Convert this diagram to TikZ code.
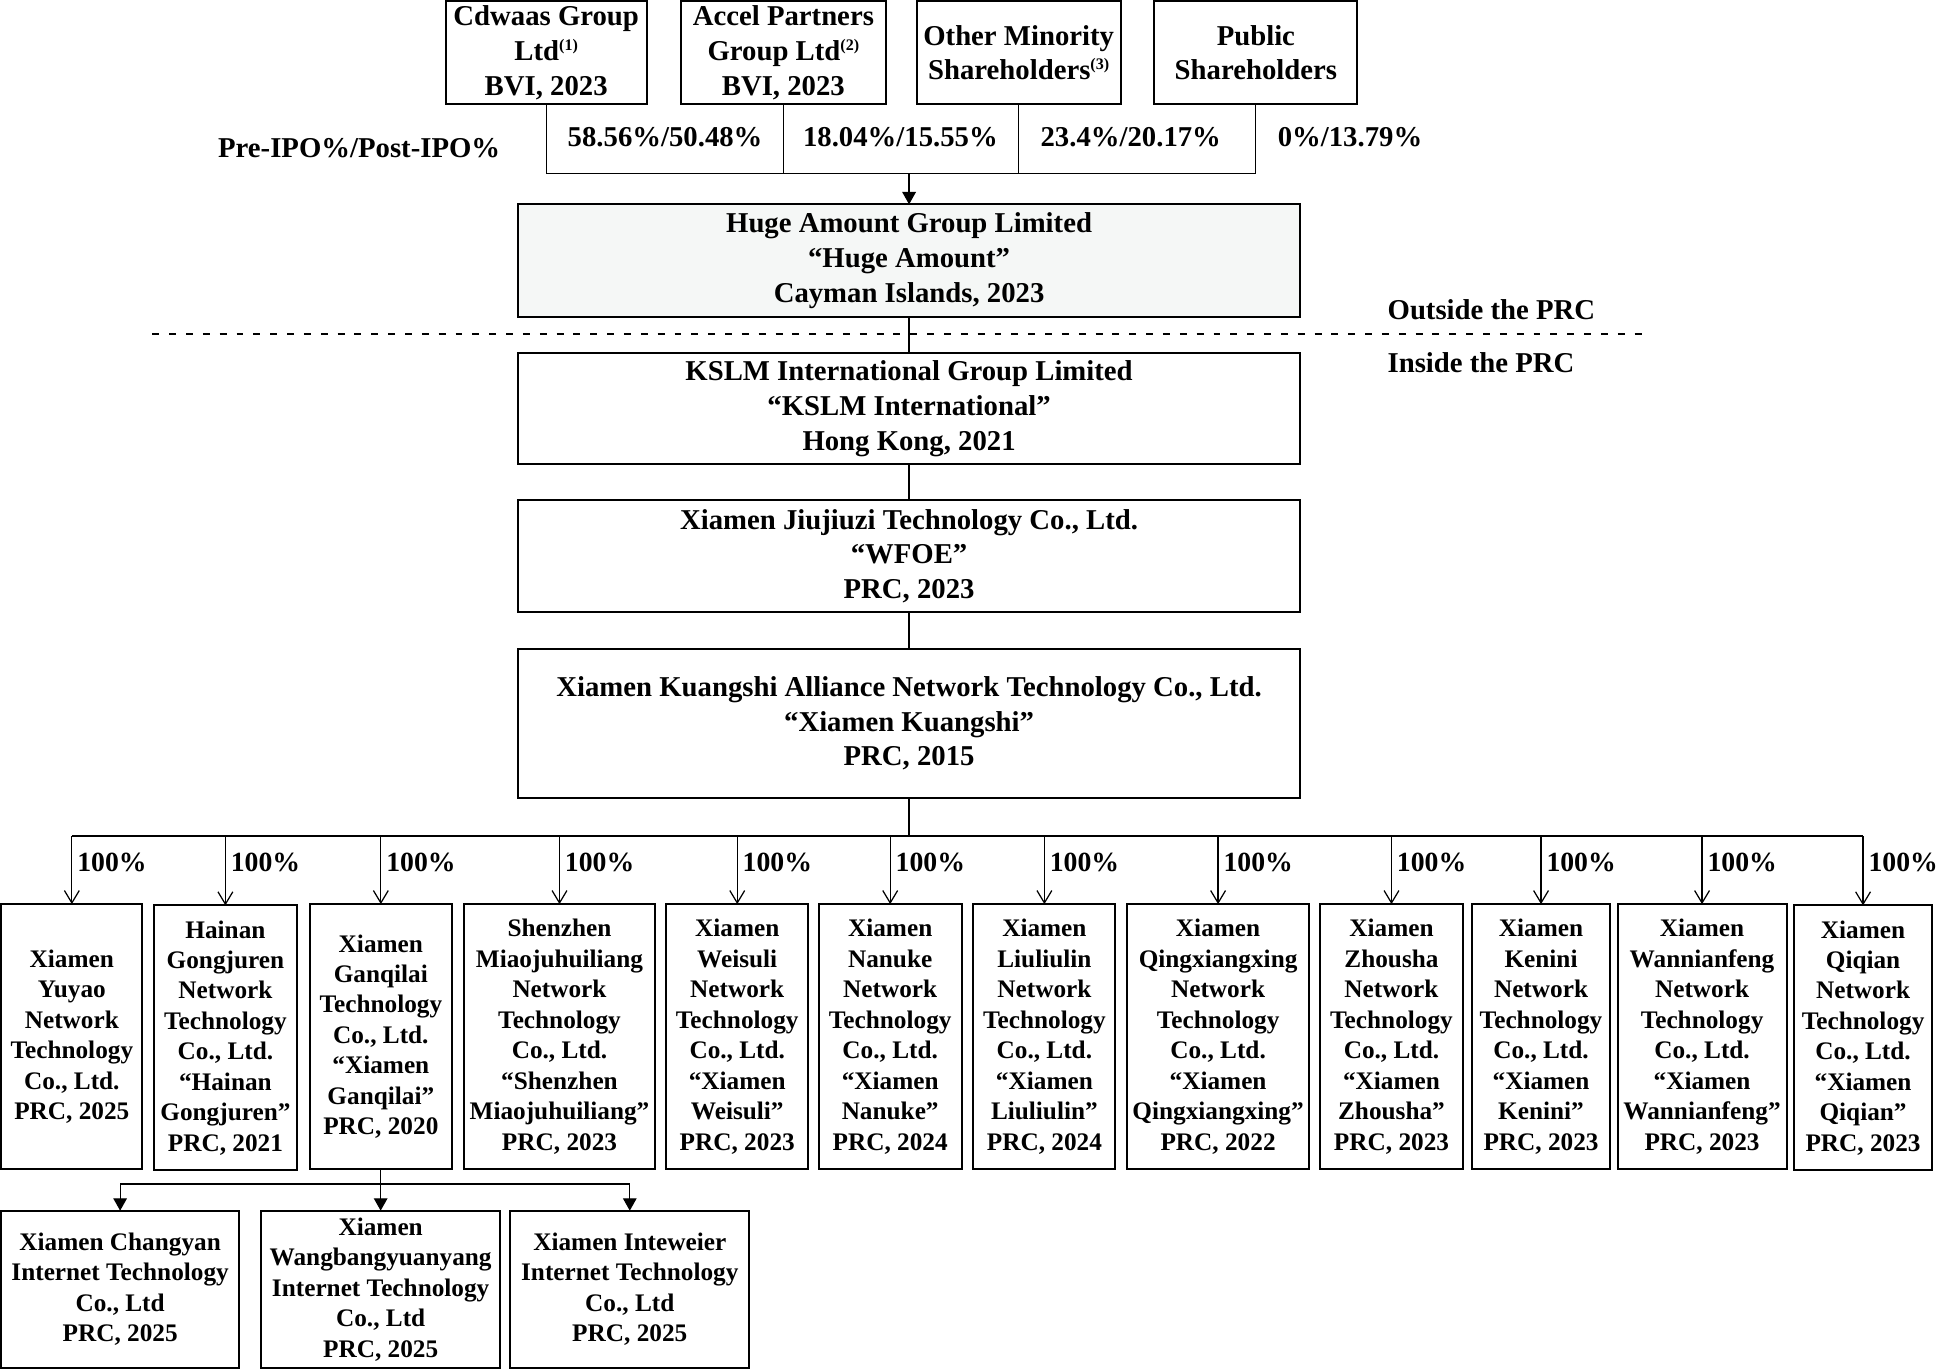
\documentclass[tikz,border=0pt]{standalone}
\usepackage{fontspec}
\setmainfont{Liberation Serif}
\usetikzlibrary{arrows.meta}
\definecolor{hugefill}{RGB}{245,247,246}
\newcommand{\orgbox}[7]{\node[#1, minimum width={(#5-#3)*0.5pt}, minimum height={(#6-#4)*0.5pt}] (#2) at ({(#3+#5)/2},{(#4+#6)/2}) {#7};}
\newcommand{\fnmark}[1]{\raisebox{0.75ex}{\fontsize{6.5}{7}\selectfont(#1)}}
\begin{document}
\begin{tikzpicture}[x=0.5pt,y=-0.5pt,
  basebox/.style={draw, line width=0.8pt, inner sep=0pt, outer sep=0pt, align=center},
  bigbox/.style={basebox, font=\fontsize{11.6}{14}\selectfont\bfseries},
  smallbox/.style={basebox, font=\fontsize{10.2}{12.3}\selectfont\bfseries},
  lbl/.style={inner sep=0pt, font=\fontsize{11.6}{14}\selectfont\bfseries},
  pct/.style={inner sep=0pt, anchor=west, font=\fontsize{11.2}{14}\selectfont\bfseries},
  conn/.style={line width=0.5pt},
  openarr/.style={conn, -{Straight Barb[length=5pt,width=6pt]}},
  fillarr/.style={conn, -{Triangle[length=5pt,width=5.5pt]}},
  busline/.style={line width=0.9pt}
]
\useasboundingbox (0,0) rectangle (1568,1106);

% shareholders
\orgbox{bigbox}{cd}{360}{1}{522}{84}{Cdwaas Group\\Ltd\fnmark{1}\\BVI, 2023}
\orgbox{bigbox}{ac}{550}{1}{715}{84}{Accel Partners\\Group Ltd\fnmark{2}\\BVI, 2023}
\orgbox{bigbox}{om}{740}{1}{905}{84}{Other Minority\\Shareholders\fnmark{3}}
\orgbox{bigbox}{pu}{932}{1}{1096}{84}{Public\\Shareholders}

% main chain
\orgbox{bigbox, fill=hugefill}{huge}{418}{165}{1050}{256}{Huge Amount Group Limited\\“Huge Amount”\\Cayman Islands, 2023}
\orgbox{bigbox}{kslm}{418}{285}{1050}{375}{KSLM International Group Limited\\“KSLM International”\\Hong Kong, 2021}
\orgbox{bigbox}{wfoe}{418}{404}{1050}{494}{Xiamen Jiujiuzi Technology Co., Ltd.\\“WFOE”\\PRC, 2023}
\orgbox{bigbox}{ks}{418}{524}{1050}{644}{Xiamen Kuangshi Alliance Network Technology Co., Ltd.\\“Xiamen Kuangshi”\\PRC, 2015}

% ownership table
\coordinate (tl) at (442,140);
\coordinate (tm) at (huge.north |- tl);
\draw[conn] (cd.south) -- (cd.south |- tl) -- (pu.south |- tl) -- (pu.south);
\draw[conn] (ac.south) -- (ac.south |- tl);
\draw[conn] (om.south) -- (om.south |- tl);
\draw[fillarr] (tm) -- (huge.north);
\node[lbl] (prepost) at (290,120) {Pre-IPO\%/Post-IPO\%};
\node[lbl] (p1) at (537,111) {58.56\%/50.48\%};
\node[lbl] (p2) at (727,111) {18.04\%/15.55\%};
\node[lbl] (p3) at (913,111) {23.4\%/20.17\%};
\node[lbl] (p4) at (1090,111) {0\%/13.79\%};

% boundary
\coordinate (dl) at (123,270);
\coordinate (dr) at (1328,270);
\draw[line width=0.8pt, dash pattern=on 2.8pt off 4pt] (dl) -- (dr);
\node[lbl, anchor=west] (outside) at (1120,250) {Outside the PRC};
\node[lbl, anchor=west] (inside) at (1120,293) {Inside the PRC};

\draw[conn] (huge.south) -- (kslm.north);
\draw[conn] (kslm.south) -- (wfoe.north);
\draw[conn] (wfoe.south) -- (ks.north);

% subsidiaries
\orgbox{smallbox}{c1}{1}{730}{115}{944}{Xiamen\\Yuyao\\Network\\Technology\\Co., Ltd.\\PRC, 2025}
\orgbox{smallbox}{c2}{124}{731}{240}{945}{Hainan\\Gongjuren\\Network\\Technology\\Co., Ltd.\\“Hainan\\Gongjuren”\\PRC, 2021}
\orgbox{smallbox}{c3}{250}{730}{365}{944}{Xiamen\\Ganqilai\\Technology\\Co., Ltd.\\“Xiamen\\Ganqilai”\\PRC, 2020}
\orgbox{smallbox}{c4}{374.5}{730}{529}{944}{Shenzhen\\Miaojuhuiliang\\Network\\Technology\\Co., Ltd.\\“Shenzhen\\Miaojuhuiliang”\\PRC, 2023}
\orgbox{smallbox}{c5}{538}{730}{652.5}{944}{Xiamen\\Weisuli\\Network\\Technology\\Co., Ltd.\\“Xiamen\\Weisuli”\\PRC, 2023}
\orgbox{smallbox}{c6}{661}{730}{776.5}{944}{Xiamen\\Nanuke\\Network\\Technology\\Co., Ltd.\\“Xiamen\\Nanuke”\\PRC, 2024}
\orgbox{smallbox}{c7}{786}{730}{900.5}{944}{Xiamen\\Liuliulin\\Network\\Technology\\Co., Ltd.\\“Xiamen\\Liuliulin”\\PRC, 2024}
\orgbox{smallbox}{c8}{910}{730}{1057}{944}{Xiamen\\Qingxiangxing\\Network\\Technology\\Co., Ltd.\\“Xiamen\\Qingxiangxing”\\PRC, 2022}
\orgbox{smallbox}{c9}{1066}{730}{1181}{944}{Xiamen\\Zhousha\\Network\\Technology\\Co., Ltd.\\“Xiamen\\Zhousha”\\PRC, 2023}
\orgbox{smallbox}{c10}{1188.5}{730}{1300}{944}{Xiamen\\Kenini\\Network\\Technology\\Co., Ltd.\\“Xiamen\\Kenini”\\PRC, 2023}
\orgbox{smallbox}{c11}{1306}{730}{1442.5}{944}{Xiamen\\Wannianfeng\\Network\\Technology\\Co., Ltd.\\“Xiamen\\Wannianfeng”\\PRC, 2023}
\orgbox{smallbox}{c12}{1448.5}{731}{1560}{945}{Xiamen\\Qiqian\\Network\\Technology\\Co., Ltd.\\“Xiamen\\Qiqian”\\PRC, 2023}

\coordinate (bus) at (735,675);
\draw[conn] (ks.south) -- (ks.south |- bus);
\draw[busline] (c1.north |- bus) -- (c12.north |- bus);
\foreach \c in {c1,c2,c3,c4,c5,c6,c7,c8,c9,c10,c11,c12}{
  \draw[openarr] (\c.north |- bus) -- (\c.north);
  \node[pct] at ([xshift=2pt]\c.north |- 0,696) {100\%};
}

% second level
\orgbox{smallbox}{g1}{1}{977.5}{193}{1104.5}{Xiamen Changyan\\Internet Technology\\Co., Ltd\\PRC, 2025}
\orgbox{smallbox}{g2}{211}{977.5}{403.7}{1104.5}{Xiamen\\Wangbangyuanyang\\Internet Technology\\Co., Ltd\\PRC, 2025}
\orgbox{smallbox}{g3}{412}{977.5}{605}{1104.5}{Xiamen Inteweier\\Internet Technology\\Co., Ltd\\PRC, 2025}
\coordinate (bus2) at (307,956);
\draw[conn] (c3.south) -- (c3.south |- bus2);
\draw[conn] (g1.north |- bus2) -- (g3.north |- bus2);
\foreach \g in {g1,g2,g3}{
  \draw[fillarr] (\g.north |- bus2) -- (\g.north);
}
\end{tikzpicture}
\end{document}
